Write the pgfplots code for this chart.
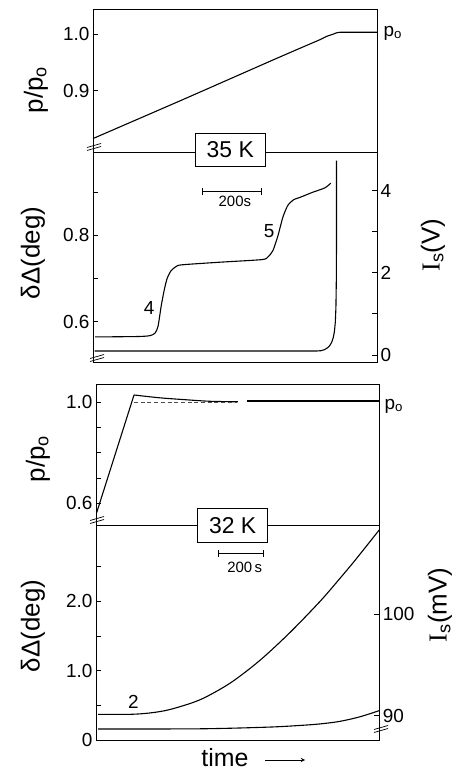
\documentclass[border=0pt]{standalone}
\usepackage{fontspec}
\setmainfont{Liberation Sans}
\newfontfamily\serifI{Liberation Serif}
\usepackage{pgfplots}
\pgfplotsset{compat=1.18}
\begin{document}
\begin{tikzpicture}
\path[use as bounding box] (0bp,0bp) rectangle (458bp,773bp);
\pgfplotsset{
 every axis/.append style={
   scale only axis, anchor=south west,
   axis line style={line width=0.9bp},
   every tick/.style={line width=0.8bp, black},
   major tick length=5bp, minor tick length=5bp,
   tick label style={font=\fontsize{19}{19}\selectfont},
   /pgf/number format/assume math mode=true,
   xtick=\empty, clip=false,
 },
}
% ---------------- 35 K : p/p0 ----------------
\begin{axis}[at={(93bp,620.3bp)}, width=284bp, height=143bp,
  xmin=0, xmax=947, ymin=0.790, ymax=1.043,
  ytick={0.9,1.0}, yticklabels={0.9,1.0}, ytick pos=left]
\addplot[line width=1.1bp, smooth, tension=0.3] coordinates {
 (0,0.815) (300,0.884) (600,0.954) (700,0.977) (757,0.990) (780,0.996) (800,0.9995) (823,1.003) (947,1.003)};
\end{axis}
% ---------------- 35 K : delta Delta ----------------
\begin{axis}[at={(93bp,410.3bp)}, width=284bp, height=210bp,
  xmin=0, xmax=947, ymin=0.5054, ymax=0.9915,
  ytick={0.6,0.8}, yticklabels={0.6,0.8}, minor ytick={0.7,0.9}, ytick pos=left]
\addplot[line width=1.1bp, smooth, tension=0.4] coordinates {
 (7,0.565) (150,0.566) (190,0.568) (207,0.574) (217,0.59) (227,0.635) (237,0.672) (247,0.70)
 (260,0.718) (277,0.728) (297,0.732) (423,0.738) (563,0.744) (583,0.75) (600,0.765) (617,0.80)
 (633,0.842) (650,0.870) (670,0.883) (690,0.888) (733,0.900) (773,0.910) (793,0.921)};
\node[font=\fontsize{19}{19}\selectfont] at (axis cs:187,0.633) {4};
\node[font=\fontsize{19}{19}\selectfont] at (axis cs:587,0.81) {5};
\draw[line width=0.8bp, |-|] (axis cs:363,0.9015) -- (axis cs:563,0.9015);
\node[font=\fontsize{15}{15}\selectfont] at (axis cs:473,0.879) {200s};
\end{axis}
\begin{axis}[at={(93bp,410.3bp)}, width=284bp, height=210bp,
  xmin=0, xmax=947, ymin=-0.187, ymax=4.92,
  axis x line=none, axis y line*=right,
  ytick={0,2,4}, minor ytick={1,3}]
\addplot[line width=1.1bp] coordinates {
 (5,0.097) (745,0.097) (760,0.105) (772,0.13) (782,0.175) (790,0.235) (796,0.31) (801,0.42)
 (805,0.57) (808,0.8) (810,1.15) (811.3,1.8) (812,2.8) (812,4.73)};
\end{axis}
% ---------------- 32 K : p/p0 ----------------
\begin{axis}[at={(96bp,247.3bp)}, width=283.3bp, height=141.7bp,
  xmin=0, xmax=1259, ymin=0.511, ymax=1.0725,
  ytick={0.6,1.0}, yticklabels={0.6,1.0}, minor ytick={0.7,0.8,0.9}, ytick pos=left]
\addplot[line width=1.1bp] coordinates {(2,0.56) (169,1.029)};
\addplot[line width=1.1bp, smooth] coordinates {(169,1.029) (280,1.018) (400,1.010) (507,1.004) (630,1.002)};
\addplot[line width=1.1bp] coordinates {(670,1.005) (1259,1.005)};
\addplot[line width=0.8bp, dash pattern=on 4bp off 2.7bp, black!70] coordinates {(169,1.0) (625,1.0)};
\end{axis}
% ---------------- 32 K : delta Delta ----------------
\begin{axis}[at={(96bp,33bp)}, width=283.3bp, height=214.3bp,
  xmin=0, xmax=1259, ymin=0, ymax=3.09,
  ytick={0,1,2}, yticklabels={0,1.0,2.0}, minor ytick={0.5,1.5,2.5}, ytick pos=left]
\addplot[line width=1.1bp, smooth] coordinates {
 (9,0.37) (151,0.37) (240,0.39) (329,0.44) (462,0.58) (596,0.82) (729,1.15) (862,1.55)
 (996,2.0) (1084,2.33) (1151,2.59) (1259,3.03)};
\node[font=\fontsize{19}{19}\selectfont] at (axis cs:166,0.552) {2};
\draw[line width=0.8bp, |-|] (axis cs:543.6,2.69) -- (axis cs:743.6,2.69);
\node[font=\fontsize{15}{15}\selectfont] at (axis cs:661,2.49) {200\,s};
\end{axis}
\begin{axis}[at={(96bp,33bp)}, width=283.3bp, height=214.3bp,
  xmin=0, xmax=1259, ymin=87.62, ymax=108.67,
  axis x line=none, axis y line*=right,
  ytick={90,100}]
\addplot[line width=1.1bp, smooth] coordinates {
 (9,88.70) (462,88.72) (760,88.88) (907,89.05) (996,89.2) (1084,89.45) (1173,89.9) (1258,90.5)};
\end{axis}
% ---------------- annotations ----------------
\node[draw, fill=white, line width=0.9bp, minimum width=70.7bp, minimum height=33.4bp, inner sep=0pt,
  font=\fontsize{23}{23}\selectfont] at (230.3bp,623bp) {35 K};
\node[draw, fill=white, line width=0.9bp, minimum width=70bp, minimum height=34bp, inner sep=0pt,
  font=\fontsize{23}{23}\selectfont] at (232.7bp,247.7bp) {32 K};
\node[rotate=90, font=\fontsize{26}{26}\selectfont] at (36bp,683bp) {p/p\textsubscript{o}};
\node[rotate=90, font=\fontsize{26}{26}\selectfont] at (33bp,520bp) {δΔ(deg)};
\node[rotate=90, font=\fontsize{26}{26}\selectfont] at (433bp,528bp) {{\serifI I}\textsubscript{s}(V)};
\node[rotate=90, font=\fontsize{26}{26}\selectfont] at (38bp,314bp) {p/p\textsubscript{o}};
\node[rotate=90, font=\fontsize{26}{26}\selectfont] at (33bp,147bp) {δΔ(deg)};
\node[rotate=90, font=\fontsize{26}{26}\selectfont] at (440bp,168bp) {{\serifI I}\textsubscript{s}(mV)};
\node[anchor=west, font=\fontsize{19}{19}\selectfont] at (380bp,740bp) {p\textsubscript{o}};
\node[anchor=west, font=\fontsize{19}{19}\selectfont] at (381bp,367bp) {p\textsubscript{o}};
\node[anchor=base, inner sep=0pt, font=\fontsize{25}{25}\selectfont] at (225bp,7bp) {time};
\draw[line width=0.9bp, -stealth] (265bp,13bp) -- (305bp,13bp);
% axis breaks
\foreach \cx/\cy in {94/627, 97/416, 97/254, 381/45} {
  \draw[line width=0.7bp] (\cx bp-7bp,\cy bp-1.5bp) -- (\cx bp+7bp,\cy bp+2.5bp);
  \draw[line width=0.7bp] (\cx bp-7bp,\cy bp-4.5bp) -- (\cx bp+7bp,\cy bp-0.5bp);
}
\end{tikzpicture}
\end{document}
